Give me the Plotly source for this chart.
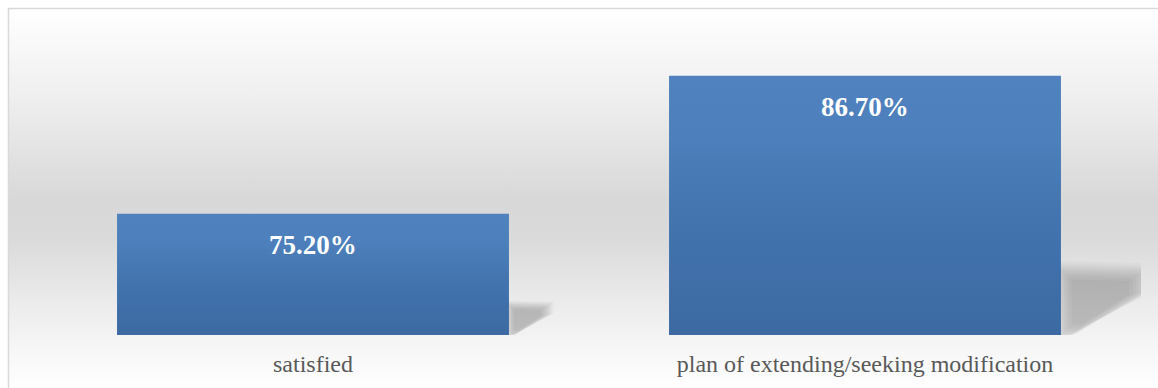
import base64
import plotly.graph_objects as go

# Survey results
categories = ["satisfied", "plan of extending/seeking modification"]
values = [75.2, 86.7]
value_labels = ["75.20%", "86.70%"]

Y_MIN, Y_MAX = 65.1, 90.1
BAR_WIDTH = 0.71
W, H = 1158, 388
M_L, M_R, M_T, M_B = 37, 17, 35, 53
PLOT_W = W - M_L - M_R
PLOT_H = H - M_T - M_B
PX_PER_X = PLOT_W / 2.0            # x range spans two category slots
PX_PER_Y = PLOT_H / (Y_MAX - Y_MIN)

fig = go.Figure()

# soft perspective shadow cast to the right of each bar
shadow_shape = [(0, 0), (0, 0.25), (0.317, 0.243), (0.317, 0.166), (0.054, 0)]
cx = sum(p[0] for p in shadow_shape) / len(shadow_shape)
cy = sum(p[1] for p in shadow_shape) / len(shadow_shape)
blur_steps = [1.3, 1.22, 1.15, 1.09, 1.03, 0.97, 0.91, 0.85, 0.78, 0.7]
for i, v in enumerate(values):
    h_px = (v - Y_MIN) * PX_PER_Y
    rx, by = i + BAR_WIDTH / 2, Y_MIN
    for s in blur_steps:
        xs, ys = [], []
        for px, py in shadow_shape + [shadow_shape[0]]:
            qx = cx + (px - cx) * s
            qy = max(0, cy + (py - cy) * s)
            xs.append(rx + qx * h_px / PX_PER_X)
            ys.append(by + qy * h_px / PX_PER_Y)
        fig.add_trace(go.Scatter(
            x=xs, y=ys, mode="lines", fill="toself",
            line=dict(width=0), fillcolor="rgba(0,0,0,0.022)",
            hoverinfo="skip", showlegend=False))

# bars with a vertical blue gradient
for i, v in enumerate(values):
    x0, x1 = i - BAR_WIDTH / 2, i + BAR_WIDTH / 2
    fig.add_trace(go.Scatter(
        x=[x0, x1, x1, x0, x0], y=[Y_MIN, Y_MIN, v, v, Y_MIN],
        mode="lines", fill="toself", line=dict(width=0),
        fillgradient=dict(type="vertical", start=Y_MIN, stop=v,
                          colorscale=[[0, "#3c69a2"], [0.45, "#4374ae"],
                                      [0.75, "#4c7fbb"], [1, "#4f82be"]]),
        name=categories[i], hoverinfo="skip", showlegend=False))

for i, v in enumerate(values):
    fig.add_annotation(
        x=i, y=v, xref="x", yref="y", text=value_labels[i], showarrow=False,
        yanchor="top", yshift=-14,
        font=dict(family="Liberation Serif", size=27, color="white", weight="bold"))

# chart-area background gradient
svg = (
    '<svg xmlns="http://www.w3.org/2000/svg" width="100" height="100" preserveAspectRatio="none">'
    '<defs><linearGradient id="g" x1="0" y1="0" x2="0" y2="1">'
    '<stop offset="0" stop-color="#ffffff"/>'
    '<stop offset="0.24" stop-color="#eeeeee"/>'
    '<stop offset="0.5" stop-color="#d8d8d8"/>'
    '<stop offset="0.6" stop-color="#dadada"/>'
    '<stop offset="0.78" stop-color="#ececec"/>'
    '<stop offset="0.9" stop-color="#f7f7f7"/>'
    '<stop offset="1" stop-color="#ffffff"/>'
    '</linearGradient></defs>'
    '<rect width="100" height="100" fill="url(#g)"/></svg>'
)
src = "data:image/svg+xml;base64," + base64.b64encode(svg.encode()).decode()


def paper_x(px):
    return (px - M_L) / PLOT_W


def paper_y(py):
    return (H - M_B - py) / PLOT_H


fig.add_layout_image(
    source=src, xref="paper", yref="paper",
    x=paper_x(9), y=paper_y(9), sizex=(W + 5 - 9) / PLOT_W, sizey=(H + 2 - 9) / PLOT_H,
    xanchor="left", yanchor="top", sizing="stretch", layer="below")

# outer chart border
fig.add_shape(type="rect", xref="paper", yref="paper",
              x0=paper_x(8.5), x1=paper_x(W + 10), y0=paper_y(H + 10), y1=paper_y(8.5),
              line=dict(color="#d9d9d9", width=1.5), fillcolor="rgba(0,0,0,0)", layer="above")

fig.update_layout(
    width=W, height=H,
    margin=dict(l=M_L, r=M_R, t=M_T, b=M_B),
    paper_bgcolor="white", plot_bgcolor="rgba(0,0,0,0)",
    xaxis=dict(range=[-0.5, 1.5], tickvals=[0, 1], ticktext=categories,
               showgrid=False, zeroline=False, showline=False, ticks="",
               tickfont=dict(family="Liberation Serif", size=24, color="#595959"),
               ticklabelstandoff=12, fixedrange=True),
    yaxis=dict(range=[Y_MIN, Y_MAX], visible=False, fixedrange=True),
    showlegend=False,
)

fig.write_html("out.html")
